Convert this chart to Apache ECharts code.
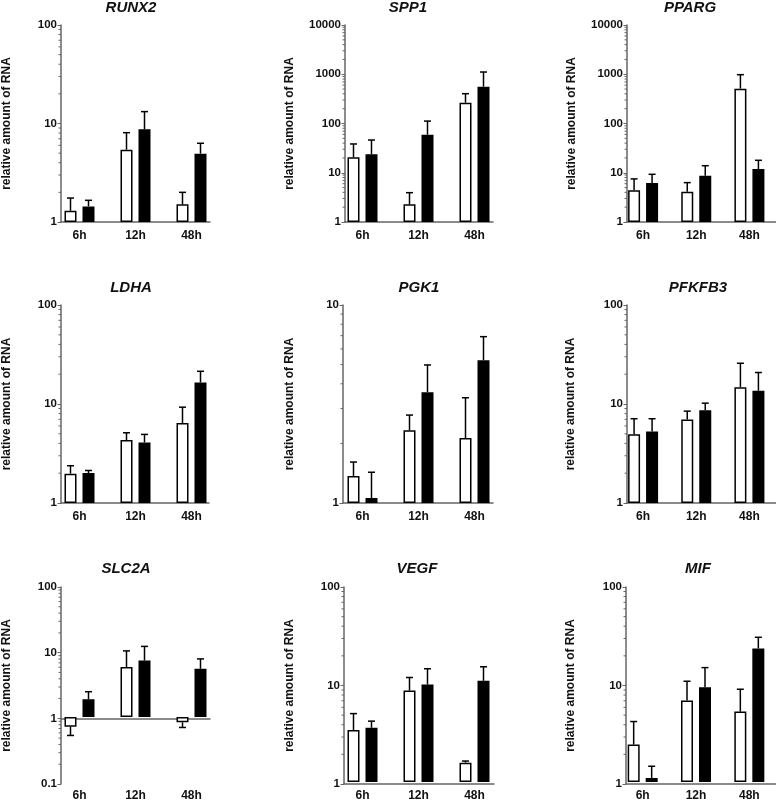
<!DOCTYPE html>
<html><head><meta charset="utf-8">
<script src="https://cdn.jsdelivr.net/npm/echarts@6/dist/echarts.min.js"></script>
<style>html,body{margin:0;padding:0;background:#fff}#c{width:776px;height:802px}</style>
</head><body><div id="c"></div>
<script>
// ---------- data ----------
const categories = ['6h', '12h', '48h'];
const yTitle = 'relative amount of RNA';

// tick labels of the log axes
const ticks10 = ['1', '10'];
const ticks100 = ['1', '10', '100'];
const ticks10000 = ['1', '10', '100', '1000', '10000'];
const ticksSlc = ['0.1', '1', '10', '100'];

// open (white) bars, filled (black) bars, and the end of each error bar
const runx2White = [1.30, 5.42, 1.51];
const runx2WhiteErr = [1.75, 8.07, 2.00];
const runx2Black = [1.44, 8.73, 4.94];
const runx2BlackErr = [1.66, 13.2, 6.3];

const spp1White = [20.6, 2.28, 265];
const spp1WhiteErr = [38.4, 3.94, 403];
const spp1Black = [23.7, 59.3, 560];
const spp1BlackErr = [46.2, 112, 1110];

const ppargWhite = [4.4, 4.13, 510];
const ppargWhiteErr = [7.5, 6.3, 980];
const ppargBlack = [6.2, 8.73, 11.9];
const ppargBlackErr = [9.3, 13.9, 17.9];

const ldhaWhite = [1.98, 4.32, 6.41];
const ldhaWhiteErr = [2.38, 5.12, 9.29];
const ldhaBlack = [2.01, 4.09, 16.5];
const ldhaBlackErr = [2.13, 4.93, 21.4];

const pgk1White = [1.37, 2.33, 2.13];
const pgk1WhiteErr = [1.61, 2.78, 3.40];
const pgk1Black = [1.06, 3.63, 5.26];
const pgk1BlackErr = [1.43, 4.98, 6.92];

const pfkfb3White = [4.96, 6.98, 14.8];
const pfkfb3WhiteErr = [7.1, 8.47, 25.8];
const pfkfb3Black = [5.28, 8.67, 13.6];
const pfkfb3BlackErr = [7.1, 10.2, 20.8];

const slc2aWhite = [0.71, 5.86, 0.83];
const slc2aWhiteErr = [0.52, 10.4, 0.69];
const slc2aBlack = [1.87, 7.39, 5.53];
const slc2aBlackErr = [2.45, 12.2, 7.83];

const vegfWhite = [3.41, 8.66, 1.58];
const vegfWhiteErr = [5.03, 11.8, 1.64];
const vegfBlack = [3.6, 10.0, 10.9];
const vegfBlackErr = [4.21, 14.5, 15.2];

const mifWhite = [2.42, 6.86, 5.27];
const mifWhiteErr = [4.17, 10.8, 8.94];
const mifBlack = [1.1, 9.36, 23.4];
const mifBlackErr = [1.45, 14.9, 30.5];

// ---------- layout ----------
const panels = [
  {name: 'RUNX2', w: runx2White, we: runx2WhiteErr, b: runx2Black, be: runx2BlackErr, ticks: ticks100, ax: 61, aw: 149, bl: 51.5, top: 25, h: 197, tx: 131, ty: 8, ng: 48},
  {name: 'SPP1', w: spp1White, we: spp1WhiteErr, b: spp1Black, be: spp1BlackErr, ticks: ticks10000, ax: 345, aw: 148, bl: 334.5, top: 25, h: 197, tx: 408, ty: 8, ng: 49},
  {name: 'PPARG', w: ppargWhite, we: ppargWhiteErr, b: ppargBlack, be: ppargBlackErr, ticks: ticks10000, ax: 627, aw: 149, bl: 616.5, top: 25, h: 197, tx: 690, ty: 8, ng: 49},
  {name: 'LDHA', w: ldhaWhite, we: ldhaWhiteErr, b: ldhaBlack, be: ldhaBlackErr, ticks: ticks100, ax: 61, aw: 148, bl: 51.5, top: 305, h: 198, tx: 131, ty: 288, ng: 48},
  {name: 'PGK1', w: pgk1White, we: pgk1WhiteErr, b: pgk1Black, be: pgk1BlackErr, ticks: ticks10, ax: 343, aw: 150, bl: 334.5, top: 305, h: 198, tx: 419, ty: 288, ng: 47},
  {name: 'PFKFB3', w: pfkfb3White, we: pfkfb3WhiteErr, b: pfkfb3Black, be: pfkfb3BlackErr, ticks: ticks100, ax: 627, aw: 149, bl: 616.5, top: 305, h: 198, tx: 698, ty: 288, ng: 50},
  {name: 'SLC2A', w: slc2aWhite, we: slc2aWhiteErr, b: slc2aBlack, be: slc2aBlackErr, ticks: ticksSlc, ax: 61, aw: 149, bl: 51.5, top: 587, h: 197, tx: 126, ty: 569, ng: 48},
  {name: 'VEGF', w: vegfWhite, we: vegfWhiteErr, b: vegfBlack, be: vegfBlackErr, ticks: ticks100, ax: 344, aw: 150, bl: 334.5, top: 587, h: 197, tx: 417, ty: 569, ng: 48},
  {name: 'MIF', w: mifWhite, we: mifWhiteErr, b: mifBlack, be: mifBlackErr, ticks: ticks100, ax: 626, aw: 150, bl: 616, top: 587, h: 197, tx: 698, ty: 569, ng: 49}
];

const FONT = 'Liberation Sans, Arial, Helvetica, sans-serif';
const AX = '#666666';

function errRender(off) {
  return function (params, api) {
    const a = api.coord([api.value(0), api.value(1)]);
    const e = api.coord([api.value(0), api.value(2)]);
    const x = a[0] + off;
    const st = {stroke: '#000', lineWidth: 1.5};
    return {type: 'group', children: [
      {type: 'line', shape: {x1: x, y1: a[1], x2: x, y2: e[1]}, style: st},
      {type: 'line', shape: {x1: x - 3.5, y1: e[1], x2: x + 3.5, y2: e[1]}, style: st}
    ]};
  };
}

// minor tick marks on the log axis (drawn through the frame axis scale)
function minorTickRender(params, api) {
  const pt = api.coord([api.value(0), api.value(1)]);
  return {type: 'line', shape: {x1: pt[0] - 2.5, y1: pt[1], x2: pt[0], y2: pt[1]},
    style: {stroke: AX, lineWidth: 1}};
}

const option = {animation: false, grid: [], xAxis: [], yAxis: [], series: [], graphic: []};

panels.forEach(function (p) {
  const gF = option.grid.length;
  option.grid.push({left: p.ax, top: p.top, width: p.aw, height: p.h});
  const gB = gF + 1;
  option.grid.push({left: p.bl, top: p.top, width: 168, height: p.h});

  const vmin = +p.ticks[0], vmax = +p.ticks[p.ticks.length - 1];
  const lo = Math.round(Math.log10(vmin)), hi = Math.round(Math.log10(vmax));
  const minor = [];
  for (let d = lo; d < hi; d++) for (let k = 2; k <= 9; k++) minor.push([0, d + Math.log10(k)]);

  // frame axes (log space on a value axis so the x-axis line sits at 1)
  const xF = option.xAxis.length;
  option.xAxis.push({gridIndex: gF, type: 'value', min: 0, max: 1,
    axisLine: {show: true, onZero: true, lineStyle: {color: AX, width: 1.5}},
    axisTick: {show: false}, axisLabel: {show: false}, splitLine: {show: false}});
  const xB = xF + 1;
  option.xAxis.push({gridIndex: gB, type: 'category', data: categories,
    axisLine: {show: false, onZero: false}, axisTick: {show: false}, splitLine: {show: false},
    axisLabel: {margin: 8, color: '#111', fontWeight: 'bold', fontSize: 12, fontFamily: FONT}});

  const yF = option.yAxis.length;
  option.yAxis.push({gridIndex: gF, type: 'value', position: 'left', min: lo, max: hi, interval: 1,
    name: yTitle, nameLocation: 'middle', nameGap: p.ng,
    nameTextStyle: {color: '#111', fontWeight: 'bold', fontSize: 12, fontFamily: FONT},
    axisLine: {show: true, lineStyle: {color: AX, width: 1.5}},
    axisTick: {show: true, length: 3.5, lineStyle: {color: AX, width: 1}},
    axisLabel: {margin: 4, color: '#111', fontWeight: 'bold', fontSize: 11.5, fontFamily: FONT,
      formatter: function (v) { return p.ticks[Math.round(v - lo)]; }},
    splitLine: {show: false}});
  const yB = yF + 1;
  option.yAxis.push({gridIndex: gB, type: 'log', logBase: 10, min: vmin, max: vmax, show: false});

  option.series.push({type: 'custom', xAxisIndex: xF, yAxisIndex: yF, clip: false, silent: true, z: 5,
    data: minor, renderItem: minorTickRender});

  option.series.push({type: 'bar', xAxisIndex: xB, yAxisIndex: yB, data: p.w, barWidth: 12, barGap: '50%',
    itemStyle: {color: '#fff', borderColor: '#000', borderWidth: 1.5}, silent: true, z: 2});
  option.series.push({type: 'bar', xAxisIndex: xB, yAxisIndex: yB, data: p.b, barWidth: 12, barGap: '50%',
    itemStyle: {color: '#000', borderColor: '#000', borderWidth: 1.5}, silent: true, z: 2});
  option.series.push({type: 'custom', xAxisIndex: xB, yAxisIndex: yB, z: 3, silent: true,
    data: p.w.map(function (m, j) { return [j, m, p.we[j]]; }), renderItem: errRender(-9)});
  option.series.push({type: 'custom', xAxisIndex: xB, yAxisIndex: yB, z: 3, silent: true,
    data: p.b.map(function (m, j) { return [j, m, p.be[j]]; }), renderItem: errRender(9)});

  option.graphic.push({type: 'text', x: p.tx, y: p.ty, silent: true,
    style: {text: p.name, fill: '#111', font: 'italic bold 15px ' + FONT, textAlign: 'center', textVerticalAlign: 'middle'}});
});

const chart = echarts.init(document.getElementById('c'), null, {renderer: 'canvas'});
chart.setOption(option);
</script>
</body></html>
